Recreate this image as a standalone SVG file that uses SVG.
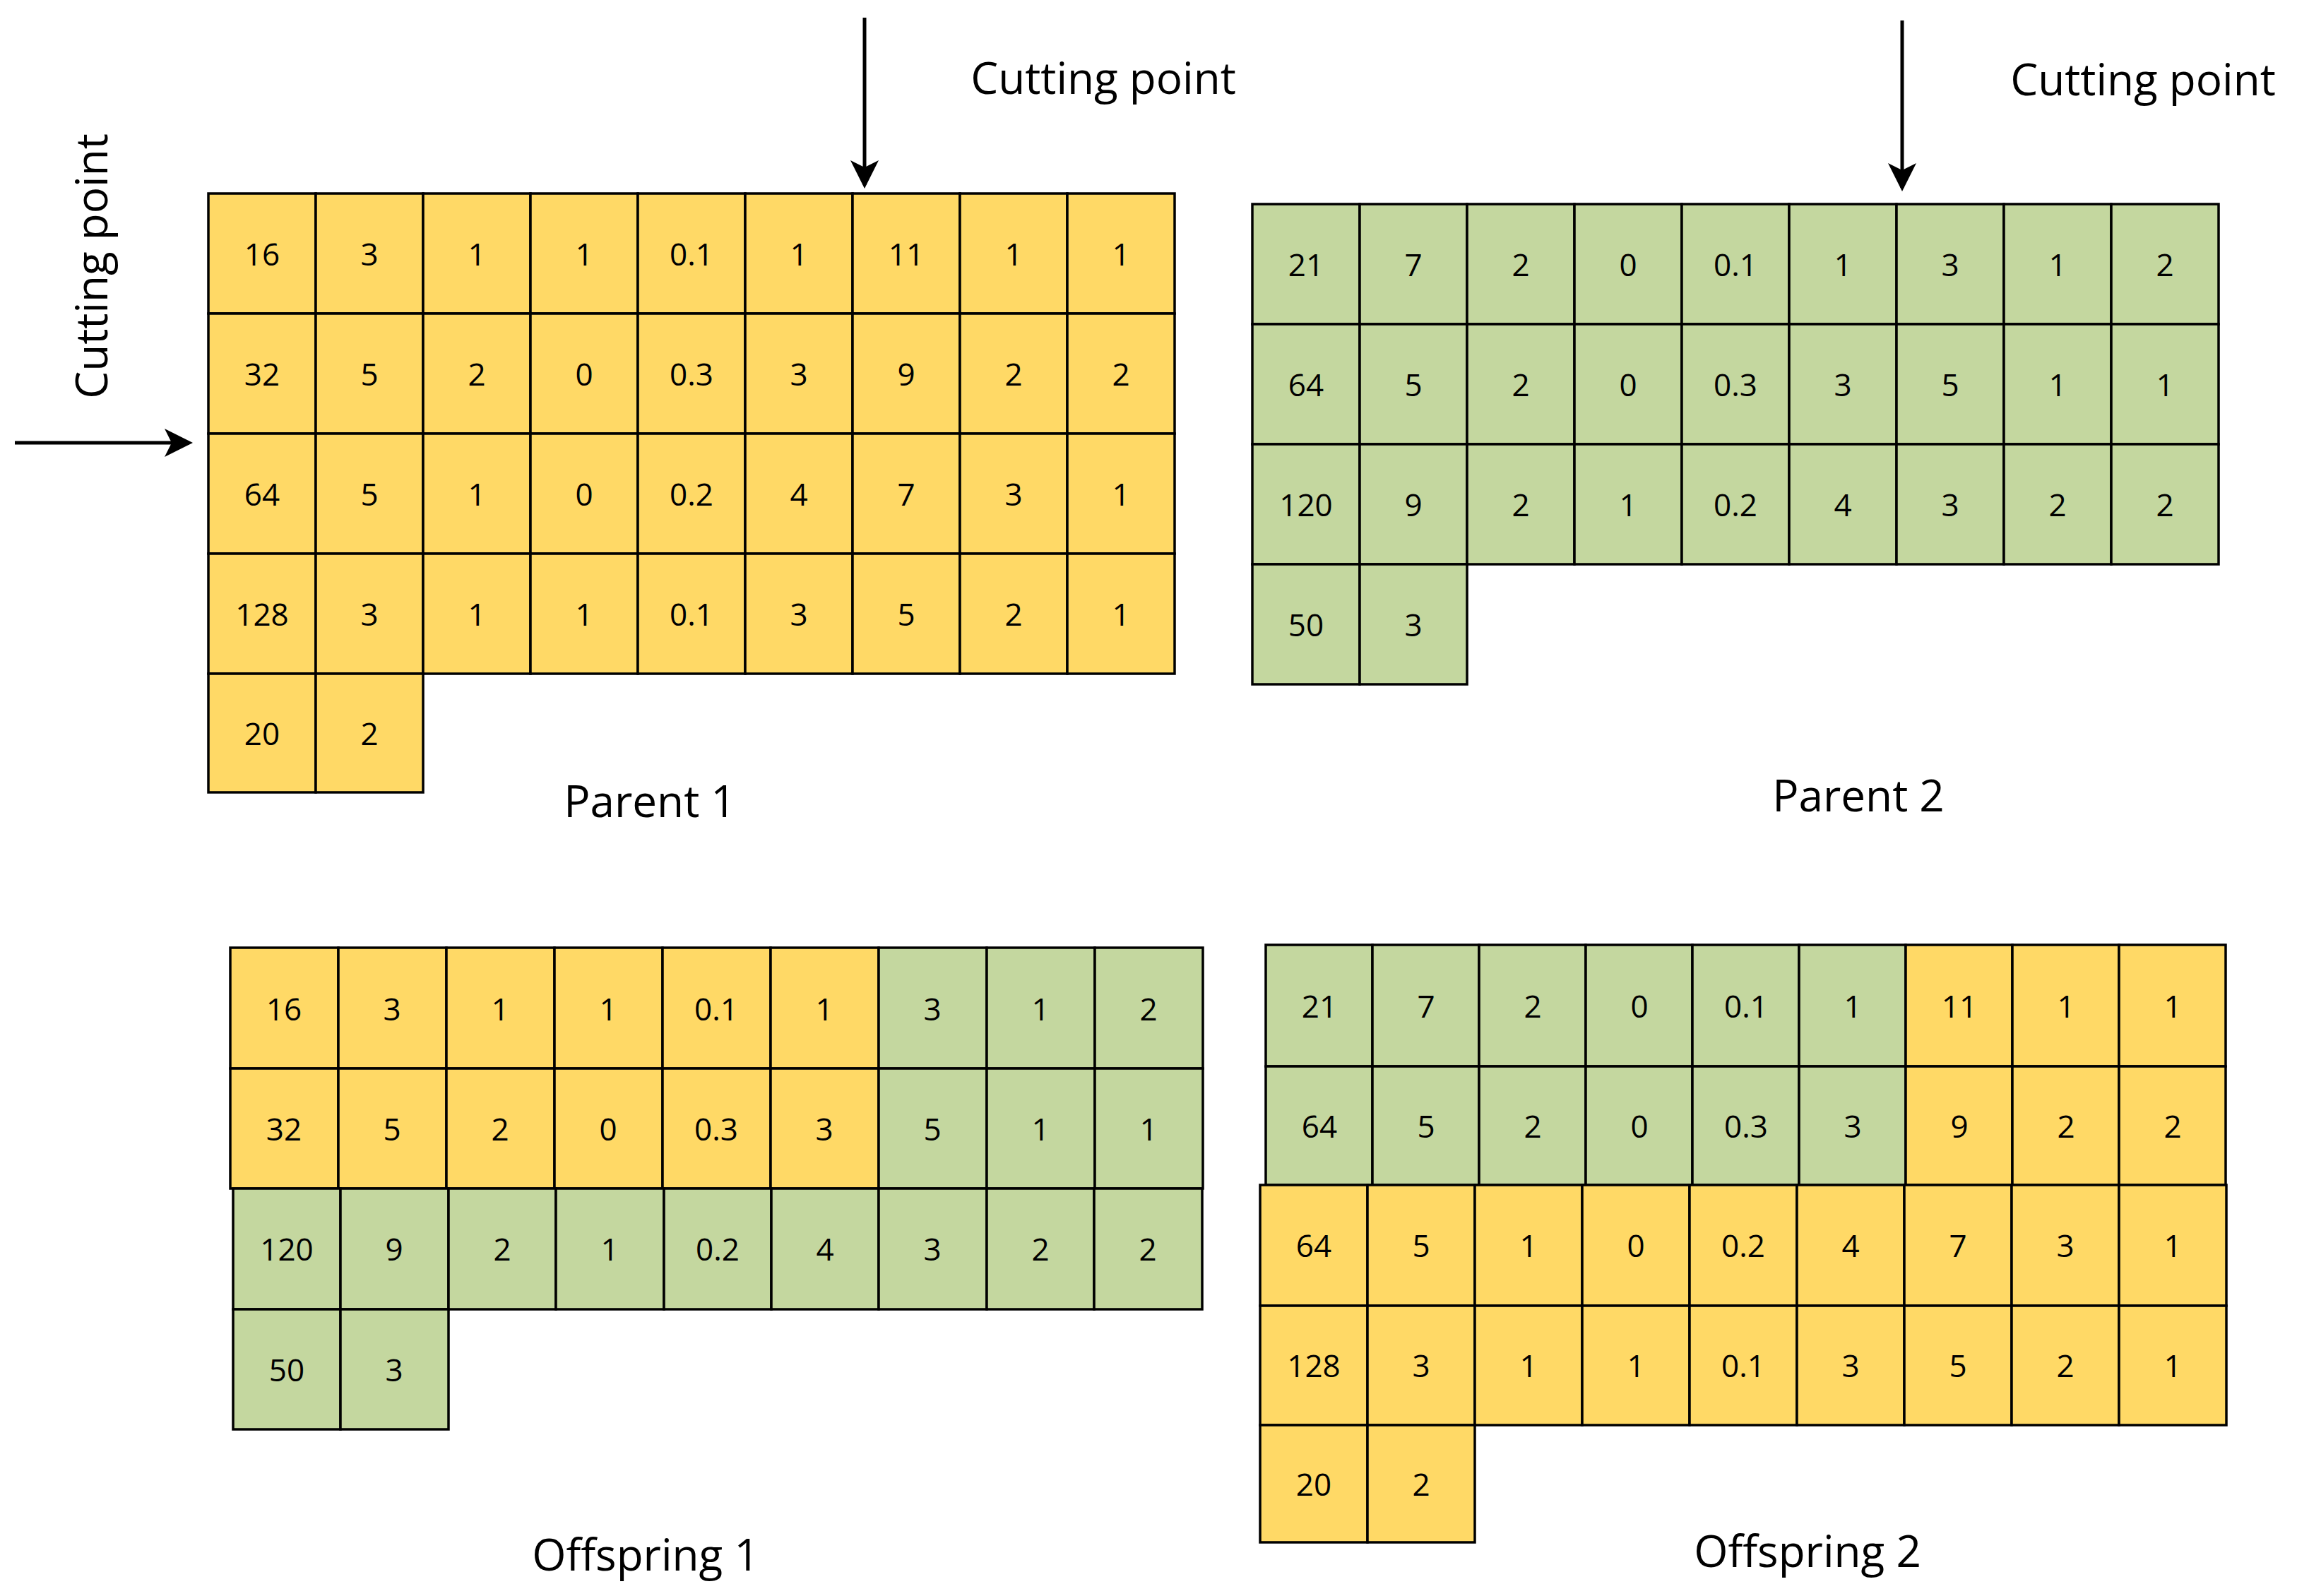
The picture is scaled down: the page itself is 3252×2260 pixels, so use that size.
<svg xmlns="http://www.w3.org/2000/svg" width="3252" height="2260" viewBox="0 0 3252 2260">
<style>
rect{stroke:#000;stroke-width:3.5}
.y{fill:#FFD966}.g{fill:#C4D79F}
text{font-family:"Open Sans","Liberation Sans",sans-serif;fill:#000}
.n{font-size:44px;text-anchor:middle;dominant-baseline:central}
.l{font-size:62px;text-anchor:middle}
</style>
<defs><marker id="ah" markerWidth="8" markerHeight="8" refX="7" refY="4" orient="auto" markerUnits="strokeWidth"><path d="M0,0 L8,4 L0,8 L2,4 Z" fill="#000"/></marker></defs>
<g id="connectors" stroke="#000" stroke-width="5">
<line x1="1224" y1="25" x2="1224" y2="262" marker-end="url(#ah)"/>
<line x1="21" y1="627" x2="268" y2="627" marker-end="url(#ah)"/>
<line x1="2693" y1="29" x2="2693" y2="266" marker-end="url(#ah)"/>
</g>
<g id="labels">
<text class="l" x="1562" y="133">Cutting point</text>
<text class="l" x="3034" y="135">Cutting point</text>
<text class="l" transform="translate(152,377) rotate(-90)">Cutting point</text>
<text class="l" x="920" y="1157">Parent 1</text>
<text class="l" x="2631" y="1149">Parent 2</text>
<text class="l" x="914" y="2224">Offspring 1</text>
<text class="l" x="2559" y="2219">Offspring 2</text>
</g>
<g id="parent1">
<g class="y">
<rect x="295" y="274" width="152" height="170"/><rect x="447" y="274" width="152" height="170"/><rect x="599" y="274" width="152" height="170"/><rect x="751" y="274" width="152" height="170"/><rect x="903" y="274" width="152" height="170"/><rect x="1055" y="274" width="152" height="170"/><rect x="1207" y="274" width="152" height="170"/><rect x="1359" y="274" width="152" height="170"/><rect x="1511" y="274" width="152" height="170"/>
<rect x="295" y="444" width="152" height="170"/><rect x="447" y="444" width="152" height="170"/><rect x="599" y="444" width="152" height="170"/><rect x="751" y="444" width="152" height="170"/><rect x="903" y="444" width="152" height="170"/><rect x="1055" y="444" width="152" height="170"/><rect x="1207" y="444" width="152" height="170"/><rect x="1359" y="444" width="152" height="170"/><rect x="1511" y="444" width="152" height="170"/>
<rect x="295" y="614" width="152" height="170"/><rect x="447" y="614" width="152" height="170"/><rect x="599" y="614" width="152" height="170"/><rect x="751" y="614" width="152" height="170"/><rect x="903" y="614" width="152" height="170"/><rect x="1055" y="614" width="152" height="170"/><rect x="1207" y="614" width="152" height="170"/><rect x="1359" y="614" width="152" height="170"/><rect x="1511" y="614" width="152" height="170"/>
<rect x="295" y="784" width="152" height="170"/><rect x="447" y="784" width="152" height="170"/><rect x="599" y="784" width="152" height="170"/><rect x="751" y="784" width="152" height="170"/><rect x="903" y="784" width="152" height="170"/><rect x="1055" y="784" width="152" height="170"/><rect x="1207" y="784" width="152" height="170"/><rect x="1359" y="784" width="152" height="170"/><rect x="1511" y="784" width="152" height="170"/>
<rect x="295" y="954" width="152" height="168"/><rect x="447" y="954" width="152" height="168"/>
</g>
<text class="n" x="371" y="359">16</text><text class="n" x="523" y="359">3</text><text class="n" x="675" y="359">1</text><text class="n" x="827" y="359">1</text><text class="n" x="979" y="359">0.1</text><text class="n" x="1131" y="359">1</text><text class="n" x="1283" y="359">11</text><text class="n" x="1435" y="359">1</text><text class="n" x="1587" y="359">1</text>
<text class="n" x="371" y="529">32</text><text class="n" x="523" y="529">5</text><text class="n" x="675" y="529">2</text><text class="n" x="827" y="529">0</text><text class="n" x="979" y="529">0.3</text><text class="n" x="1131" y="529">3</text><text class="n" x="1283" y="529">9</text><text class="n" x="1435" y="529">2</text><text class="n" x="1587" y="529">2</text>
<text class="n" x="371" y="699">64</text><text class="n" x="523" y="699">5</text><text class="n" x="675" y="699">1</text><text class="n" x="827" y="699">0</text><text class="n" x="979" y="699">0.2</text><text class="n" x="1131" y="699">4</text><text class="n" x="1283" y="699">7</text><text class="n" x="1435" y="699">3</text><text class="n" x="1587" y="699">1</text>
<text class="n" x="371" y="869">128</text><text class="n" x="523" y="869">3</text><text class="n" x="675" y="869">1</text><text class="n" x="827" y="869">1</text><text class="n" x="979" y="869">0.1</text><text class="n" x="1131" y="869">3</text><text class="n" x="1283" y="869">5</text><text class="n" x="1435" y="869">2</text><text class="n" x="1587" y="869">1</text>
<text class="n" x="371" y="1038">20</text><text class="n" x="523" y="1038">2</text>
</g>
<g id="parent2">
<g class="g">
<rect x="1773" y="289" width="152" height="170"/><rect x="1925" y="289" width="152" height="170"/><rect x="2077" y="289" width="152" height="170"/><rect x="2229" y="289" width="152" height="170"/><rect x="2381" y="289" width="152" height="170"/><rect x="2533" y="289" width="152" height="170"/><rect x="2685" y="289" width="152" height="170"/><rect x="2837" y="289" width="152" height="170"/><rect x="2989" y="289" width="152" height="170"/>
<rect x="1773" y="459" width="152" height="170"/><rect x="1925" y="459" width="152" height="170"/><rect x="2077" y="459" width="152" height="170"/><rect x="2229" y="459" width="152" height="170"/><rect x="2381" y="459" width="152" height="170"/><rect x="2533" y="459" width="152" height="170"/><rect x="2685" y="459" width="152" height="170"/><rect x="2837" y="459" width="152" height="170"/><rect x="2989" y="459" width="152" height="170"/>
<rect x="1773" y="629" width="152" height="170"/><rect x="1925" y="629" width="152" height="170"/><rect x="2077" y="629" width="152" height="170"/><rect x="2229" y="629" width="152" height="170"/><rect x="2381" y="629" width="152" height="170"/><rect x="2533" y="629" width="152" height="170"/><rect x="2685" y="629" width="152" height="170"/><rect x="2837" y="629" width="152" height="170"/><rect x="2989" y="629" width="152" height="170"/>
<rect x="1773" y="799" width="152" height="170"/><rect x="1925" y="799" width="152" height="170"/>
</g>
<text class="n" x="1849" y="374">21</text><text class="n" x="2001" y="374">7</text><text class="n" x="2153" y="374">2</text><text class="n" x="2305" y="374">0</text><text class="n" x="2457" y="374">0.1</text><text class="n" x="2609" y="374">1</text><text class="n" x="2761" y="374">3</text><text class="n" x="2913" y="374">1</text><text class="n" x="3065" y="374">2</text>
<text class="n" x="1849" y="544">64</text><text class="n" x="2001" y="544">5</text><text class="n" x="2153" y="544">2</text><text class="n" x="2305" y="544">0</text><text class="n" x="2457" y="544">0.3</text><text class="n" x="2609" y="544">3</text><text class="n" x="2761" y="544">5</text><text class="n" x="2913" y="544">1</text><text class="n" x="3065" y="544">1</text>
<text class="n" x="1849" y="714">120</text><text class="n" x="2001" y="714">9</text><text class="n" x="2153" y="714">2</text><text class="n" x="2305" y="714">1</text><text class="n" x="2457" y="714">0.2</text><text class="n" x="2609" y="714">4</text><text class="n" x="2761" y="714">3</text><text class="n" x="2913" y="714">2</text><text class="n" x="3065" y="714">2</text>
<text class="n" x="1849" y="884">50</text><text class="n" x="2001" y="884">3</text>
</g>
<g id="offspring1">
<g class="y">
<rect x="326" y="1342" width="153" height="171"/><rect x="479" y="1342" width="153" height="171"/><rect x="632" y="1342" width="153" height="171"/><rect x="785" y="1342" width="153" height="171"/><rect x="938" y="1342" width="153" height="171"/><rect x="1091" y="1342" width="153" height="171"/>
<rect x="326" y="1513" width="153" height="170"/><rect x="479" y="1513" width="153" height="170"/><rect x="632" y="1513" width="153" height="170"/><rect x="785" y="1513" width="153" height="170"/><rect x="938" y="1513" width="153" height="170"/><rect x="1091" y="1513" width="153" height="170"/>
</g>
<g class="g">
<rect x="1244" y="1342" width="153" height="171"/><rect x="1397" y="1342" width="153" height="171"/><rect x="1550" y="1342" width="153" height="171"/>
<rect x="1244" y="1513" width="153" height="170"/><rect x="1397" y="1513" width="153" height="170"/><rect x="1550" y="1513" width="153" height="170"/>
<rect x="330" y="1683" width="152" height="171"/><rect x="482" y="1683" width="153" height="171"/><rect x="635" y="1683" width="152" height="171"/><rect x="787" y="1683" width="153" height="171"/><rect x="940" y="1683" width="152" height="171"/><rect x="1092" y="1683" width="152" height="171"/><rect x="1244" y="1683" width="153" height="171"/><rect x="1397" y="1683" width="152" height="171"/><rect x="1549" y="1683" width="153" height="171"/>
<rect x="330" y="1854" width="152" height="170"/><rect x="482" y="1854" width="153" height="170"/>
</g>
<text class="n" x="402" y="1428">16</text><text class="n" x="555" y="1428">3</text><text class="n" x="708" y="1428">1</text><text class="n" x="861" y="1428">1</text><text class="n" x="1014" y="1428">0.1</text><text class="n" x="1167" y="1428">1</text><text class="n" x="1320" y="1428">3</text><text class="n" x="1473" y="1428">1</text><text class="n" x="1626" y="1428">2</text>
<text class="n" x="402" y="1598">32</text><text class="n" x="555" y="1598">5</text><text class="n" x="708" y="1598">2</text><text class="n" x="861" y="1598">0</text><text class="n" x="1014" y="1598">0.3</text><text class="n" x="1167" y="1598">3</text><text class="n" x="1320" y="1598">5</text><text class="n" x="1473" y="1598">1</text><text class="n" x="1626" y="1598">1</text>
<text class="n" x="406" y="1768">120</text><text class="n" x="558" y="1768">9</text><text class="n" x="711" y="1768">2</text><text class="n" x="863" y="1768">1</text><text class="n" x="1016" y="1768">0.2</text><text class="n" x="1168" y="1768">4</text><text class="n" x="1320" y="1768">3</text><text class="n" x="1473" y="1768">2</text><text class="n" x="1625" y="1768">2</text>
<text class="n" x="406" y="1939">50</text><text class="n" x="558" y="1939">3</text>
</g>
<g id="offspring2">
<g class="g">
<rect x="1792" y="1338" width="151" height="172"/><rect x="1943" y="1338" width="151" height="172"/><rect x="2094" y="1338" width="151" height="172"/><rect x="2245" y="1338" width="151" height="172"/><rect x="2396" y="1338" width="151" height="172"/><rect x="2547" y="1338" width="151" height="172"/>
<rect x="1792" y="1510" width="151" height="168"/><rect x="1943" y="1510" width="151" height="168"/><rect x="2094" y="1510" width="151" height="168"/><rect x="2245" y="1510" width="151" height="168"/><rect x="2396" y="1510" width="151" height="168"/><rect x="2547" y="1510" width="151" height="168"/>
</g>
<g class="y">
<rect x="2698" y="1338" width="151" height="172"/><rect x="2849" y="1338" width="151" height="172"/><rect x="3000" y="1338" width="151" height="172"/>
<rect x="2698" y="1510" width="151" height="168"/><rect x="2849" y="1510" width="151" height="168"/><rect x="3000" y="1510" width="151" height="168"/>
<rect x="1784" y="1678" width="152" height="171"/><rect x="1936" y="1678" width="152" height="171"/><rect x="2088" y="1678" width="152" height="171"/><rect x="2240" y="1678" width="152" height="171"/><rect x="2392" y="1678" width="152" height="171"/><rect x="2544" y="1678" width="152" height="171"/><rect x="2696" y="1678" width="152" height="171"/><rect x="2848" y="1678" width="152" height="171"/><rect x="3000" y="1678" width="152" height="171"/>
<rect x="1784" y="1849" width="152" height="169"/><rect x="1936" y="1849" width="152" height="169"/><rect x="2088" y="1849" width="152" height="169"/><rect x="2240" y="1849" width="152" height="169"/><rect x="2392" y="1849" width="152" height="169"/><rect x="2544" y="1849" width="152" height="169"/><rect x="2696" y="1849" width="152" height="169"/><rect x="2848" y="1849" width="152" height="169"/><rect x="3000" y="1849" width="152" height="169"/>
<rect x="1784" y="2018" width="152" height="166"/><rect x="1936" y="2018" width="152" height="166"/>
</g>
<text class="n" x="1868" y="1424">21</text><text class="n" x="2019" y="1424">7</text><text class="n" x="2170" y="1424">2</text><text class="n" x="2321" y="1424">0</text><text class="n" x="2472" y="1424">0.1</text><text class="n" x="2623" y="1424">1</text><text class="n" x="2774" y="1424">11</text><text class="n" x="2925" y="1424">1</text><text class="n" x="3076" y="1424">1</text>
<text class="n" x="1868" y="1594">64</text><text class="n" x="2019" y="1594">5</text><text class="n" x="2170" y="1594">2</text><text class="n" x="2321" y="1594">0</text><text class="n" x="2472" y="1594">0.3</text><text class="n" x="2623" y="1594">3</text><text class="n" x="2774" y="1594">9</text><text class="n" x="2925" y="1594">2</text><text class="n" x="3076" y="1594">2</text>
<text class="n" x="1860" y="1763">64</text><text class="n" x="2012" y="1763">5</text><text class="n" x="2164" y="1763">1</text><text class="n" x="2316" y="1763">0</text><text class="n" x="2468" y="1763">0.2</text><text class="n" x="2620" y="1763">4</text><text class="n" x="2772" y="1763">7</text><text class="n" x="2924" y="1763">3</text><text class="n" x="3076" y="1763">1</text>
<text class="n" x="1860" y="1933">128</text><text class="n" x="2012" y="1933">3</text><text class="n" x="2164" y="1933">1</text><text class="n" x="2316" y="1933">1</text><text class="n" x="2468" y="1933">0.1</text><text class="n" x="2620" y="1933">3</text><text class="n" x="2772" y="1933">5</text><text class="n" x="2924" y="1933">2</text><text class="n" x="3076" y="1933">1</text>
<text class="n" x="1860" y="2101">20</text><text class="n" x="2012" y="2101">2</text>
</g>
</svg>
